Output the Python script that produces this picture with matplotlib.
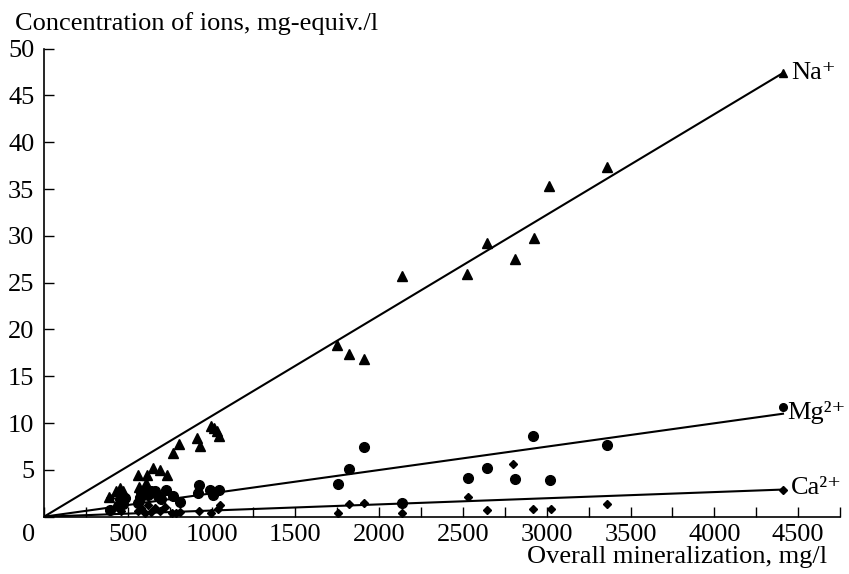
import matplotlib
matplotlib.use("Agg")
import matplotlib.pyplot as plt

plt.rcParams['font.family'] = ['Liberation Serif', 'DejaVu Serif']
plt.rcParams['mathtext.fontset'] = 'stix'

# Na+ points (triangles)
na_x = [390, 432, 452, 470, 562, 568, 575, 606, 612, 651, 691, 735, 771, 807, 914, 930,
        994, 1017, 1030, 1042,
        1750, 1821, 1911, 2134, 2526, 2641, 2812, 2924, 3015, 3358]
na_y = [2.1, 2.75, 3.1, 2.75, 4.5, 3.2, 2.6, 3.6, 4.5, 5.2, 5.0, 4.5, 6.8, 7.8, 8.4, 7.6,
        9.7, 9.5, 9.2, 8.6,
        18.3, 17.4, 16.8, 25.7, 25.9, 29.2, 27.5, 29.8, 35.3, 37.3]

# Mg2+ points (circles)
mg_x = [393, 440, 452, 470, 482, 560, 570, 580, 600, 620, 640, 661, 680, 700, 727, 771,
        810, 920, 924, 991, 1010, 1043,
        1752, 1823, 1911, 2134, 2532, 2643, 2810, 2920, 3021, 3362]
mg_y = [0.7, 1.1, 1.85, 1.4, 2.0, 1.5, 2.0, 2.6, 2.9, 2.3, 2.7, 2.75, 2.2, 1.9, 2.85, 2.2,
        1.6, 2.5, 3.4, 2.85, 2.3, 2.9,
        3.5, 5.1, 7.4, 1.5, 4.1, 5.2, 4.0, 8.6, 3.9, 7.7]

# Ca2+ points (diamonds)
ca_x = [393, 440, 460, 560, 580, 600, 620, 640, 660, 690, 720, 765, 790, 810, 924, 996,
        1040, 1050,
        1752, 1823, 1909, 2134, 2528, 2641, 2800, 2920, 3023, 3358]
ca_y = [2.0, 1.2, 0.6, 0.6, 0.9, 0.4, 1.2, 0.5, 0.9, 0.6, 1.0, 0.4, 0.4, 0.5, 0.6, 0.4,
        0.8, 1.2,
        0.35, 1.4, 1.5, 0.35, 2.1, 0.7, 5.6, 0.8, 0.8, 1.4]

# trend lines from origin and the end points
line_x = [0, 4410]
na_line = [0, 47.4]
mg_line = [0, 11.0]
ca_line = [0, 2.9]
end_x = 4410
na_end, mg_end, ca_end = 47.4, 11.7, 2.9

FS = 19

fig = plt.figure(figsize=(8.49, 5.74), dpi=100)
ax = fig.add_axes([44 / 849, 1 - 516.7 / 574, (840 - 44) / 849, (516.7 - 48.6) / 574])

ax.plot(line_x, na_line, color='black', lw=1.5)
ax.plot(line_x, mg_line, color='black', lw=1.5)
ax.plot(line_x, ca_line, color='black', lw=1.5)

ax.plot(na_x, na_y, '^', color='black', ms=7.5, ls='none')
ax.plot(mg_x, mg_y, 'o', color='black', ms=7, ls='none')
ax.plot(ca_x, ca_y, 'D', color='black', ms=4.5, ls='none')

ax.plot([end_x], [na_end], '^', color='black', ms=6)
ax.plot([end_x], [mg_end], 'o', color='black', ms=5.5)
ax.plot([end_x], [ca_end], 'D', color='black', ms=4)

ax.annotate('Na⁺', xy=(end_x, na_end), xytext=(6, 0), textcoords='offset points',
            ha='left', va='center', fontsize=FS, annotation_clip=False)
ax.annotate('Mg²⁺', xy=(end_x, mg_end), xytext=(3, -4), textcoords='offset points',
            ha='left', va='center', fontsize=FS, annotation_clip=False)
ax.annotate('Ca²⁺', xy=(end_x, ca_end), xytext=(6, 1), textcoords='offset points',
            ha='left', va='center', fontsize=FS, annotation_clip=False)

ax.set_xlim(0, 4750)
ax.set_ylim(0, 50)

xt = list(range(0, 4751, 250))
ax.set_xticks(xt)
ax.set_xticklabels([str(v) if (v % 500 == 0 and v > 0) else '' for v in xt])
yt = list(range(0, 51, 5))
ax.set_yticks(yt)
ax.set_yticklabels([str(v) if v > 0 else '' for v in yt])
ax.tick_params(axis='both', direction='in', length=7, width=1, labelsize=FS)
ax.tick_params(axis='x', pad=5)
ax.tick_params(axis='y', pad=7)

ax.annotate('0', xy=(0, 0), xytext=(-11, -5), textcoords='offset points',
            ha='center', va='top', fontsize=FS)

for s in ['top', 'right']:
    ax.spines[s].set_visible(False)
ax.spines['left'].set_linewidth(1.2)
ax.spines['bottom'].set_linewidth(1.2)

fig.text(15 / 849, 1 - 30 / 574, 'Concentration of ions, mg-equiv./l',
         ha='left', va='baseline', fontsize=FS)
fig.text(827 / 849, 1 - 563 / 574, 'Overall mineralization, mg/l',
         ha='right', va='baseline', fontsize=FS)

fig.savefig('out.png', dpi=100)
